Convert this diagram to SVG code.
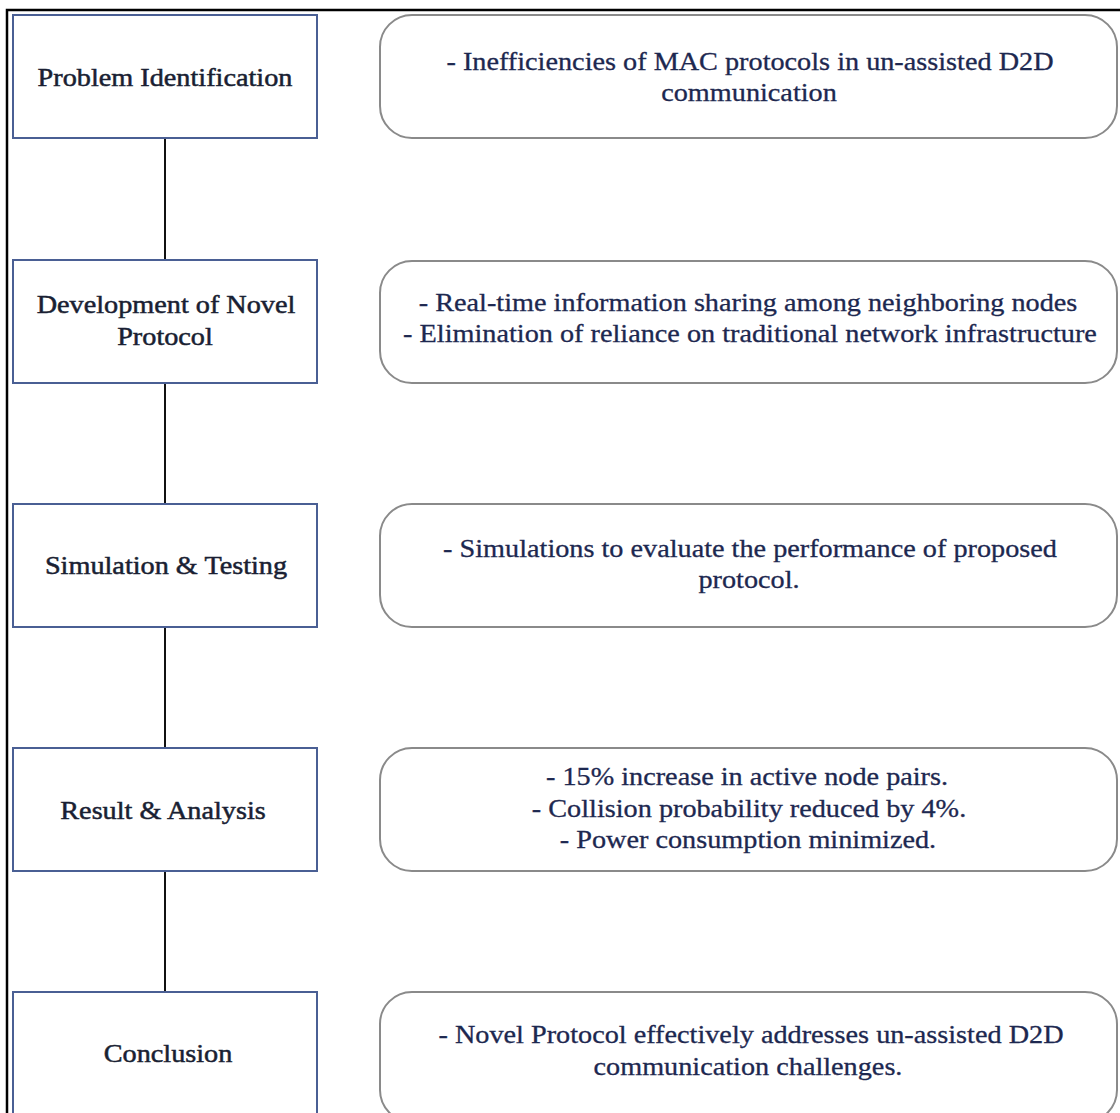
<svg xmlns="http://www.w3.org/2000/svg" width="1120" height="1113" viewBox="0 0 1120 1113">
<style>
.step{fill:#fff;stroke:#4a5f94;stroke-width:2}
.info{fill:#fff;stroke:#8a8a8a;stroke-width:2}
.t{font-family:"Liberation Serif",serif;font-size:25px;fill:#1d2850;text-anchor:middle;stroke:#1d2850;stroke-width:0.3}
.lt{font-family:"Liberation Serif",serif;font-size:25px;fill:#1a1f33;text-anchor:middle;stroke:#1a1f33;stroke-width:0.5}
.conn{stroke:#111;stroke-width:2;fill:none}
</style>
<rect width="1120" height="1113" fill="#fff"/>
<path d="M7 1113 V10 H1120" fill="none" stroke="#000" stroke-width="2.5"/>
<g id="connectors">
<line class="conn" x1="165" y1="138" x2="165" y2="260"/>
<line class="conn" x1="165" y1="383" x2="165" y2="504"/>
<line class="conn" x1="165" y1="627" x2="165" y2="748"/>
<line class="conn" x1="165" y1="871" x2="165" y2="992"/>
</g>
<g id="step1">
<rect class="step" x="13" y="15" width="304" height="123"/>
<text class="lt" transform="translate(165 86) scale(1.13 1)">Problem Identification</text>
</g>
<g id="info1">
<rect class="info" x="380" y="15" width="737" height="123" rx="32"/>
<text class="t" transform="translate(750 70) scale(1.13 1)">- Inefficiencies of MAC protocols in un-assisted D2D</text>
<text class="t" transform="translate(749 101) scale(1.13 1)">communication</text>
</g>
<g id="step2">
<rect class="step" x="13" y="260" width="304" height="123"/>
<text class="lt" transform="translate(166 313) scale(1.13 1)">Development of Novel</text>
<text class="lt" transform="translate(165 345) scale(1.13 1)">Protocol</text>
</g>
<g id="info2">
<rect class="info" x="380" y="261" width="737" height="122" rx="32"/>
<text class="t" transform="translate(748 311) scale(1.13 1)">- Real-time information sharing among neighboring nodes</text>
<text class="t" transform="translate(750 342) scale(1.13 1)">- Elimination of reliance on traditional network infrastructure</text>
</g>
<g id="step3">
<rect class="step" x="13" y="504" width="304" height="123"/>
<text class="lt" transform="translate(166 574) scale(1.13 1)">Simulation &amp; Testing</text>
</g>
<g id="info3">
<rect class="info" x="380" y="504" width="737" height="123" rx="32"/>
<text class="t" transform="translate(750 557) scale(1.13 1)">- Simulations to evaluate the performance of proposed</text>
<text class="t" transform="translate(749 588) scale(1.13 1)">protocol.</text>
</g>
<g id="step4">
<rect class="step" x="13" y="748" width="304" height="123"/>
<text class="lt" transform="translate(163 819) scale(1.13 1)">Result &amp; Analysis</text>
</g>
<g id="info4">
<rect class="info" x="380" y="748" width="737" height="123" rx="32"/>
<text class="t" transform="translate(747 785) scale(1.13 1)">- 15% increase in active node pairs.</text>
<text class="t" transform="translate(749 817) scale(1.13 1)">- Collision probability reduced by 4%.</text>
<text class="t" transform="translate(748 848) scale(1.13 1)">- Power consumption minimized.</text>
</g>
<g id="step5">
<rect class="step" x="13" y="992" width="304" height="130"/>
<text class="lt" transform="translate(168 1062) scale(1.13 1)">Conclusion</text>
</g>
<g id="info5">
<rect class="info" x="380" y="992" width="737" height="130" rx="32"/>
<text class="t" transform="translate(751 1043) scale(1.13 1)">- Novel Protocol effectively addresses un-assisted D2D</text>
<text class="t" transform="translate(748 1075) scale(1.13 1)">communication challenges.</text>
</g>
</svg>
